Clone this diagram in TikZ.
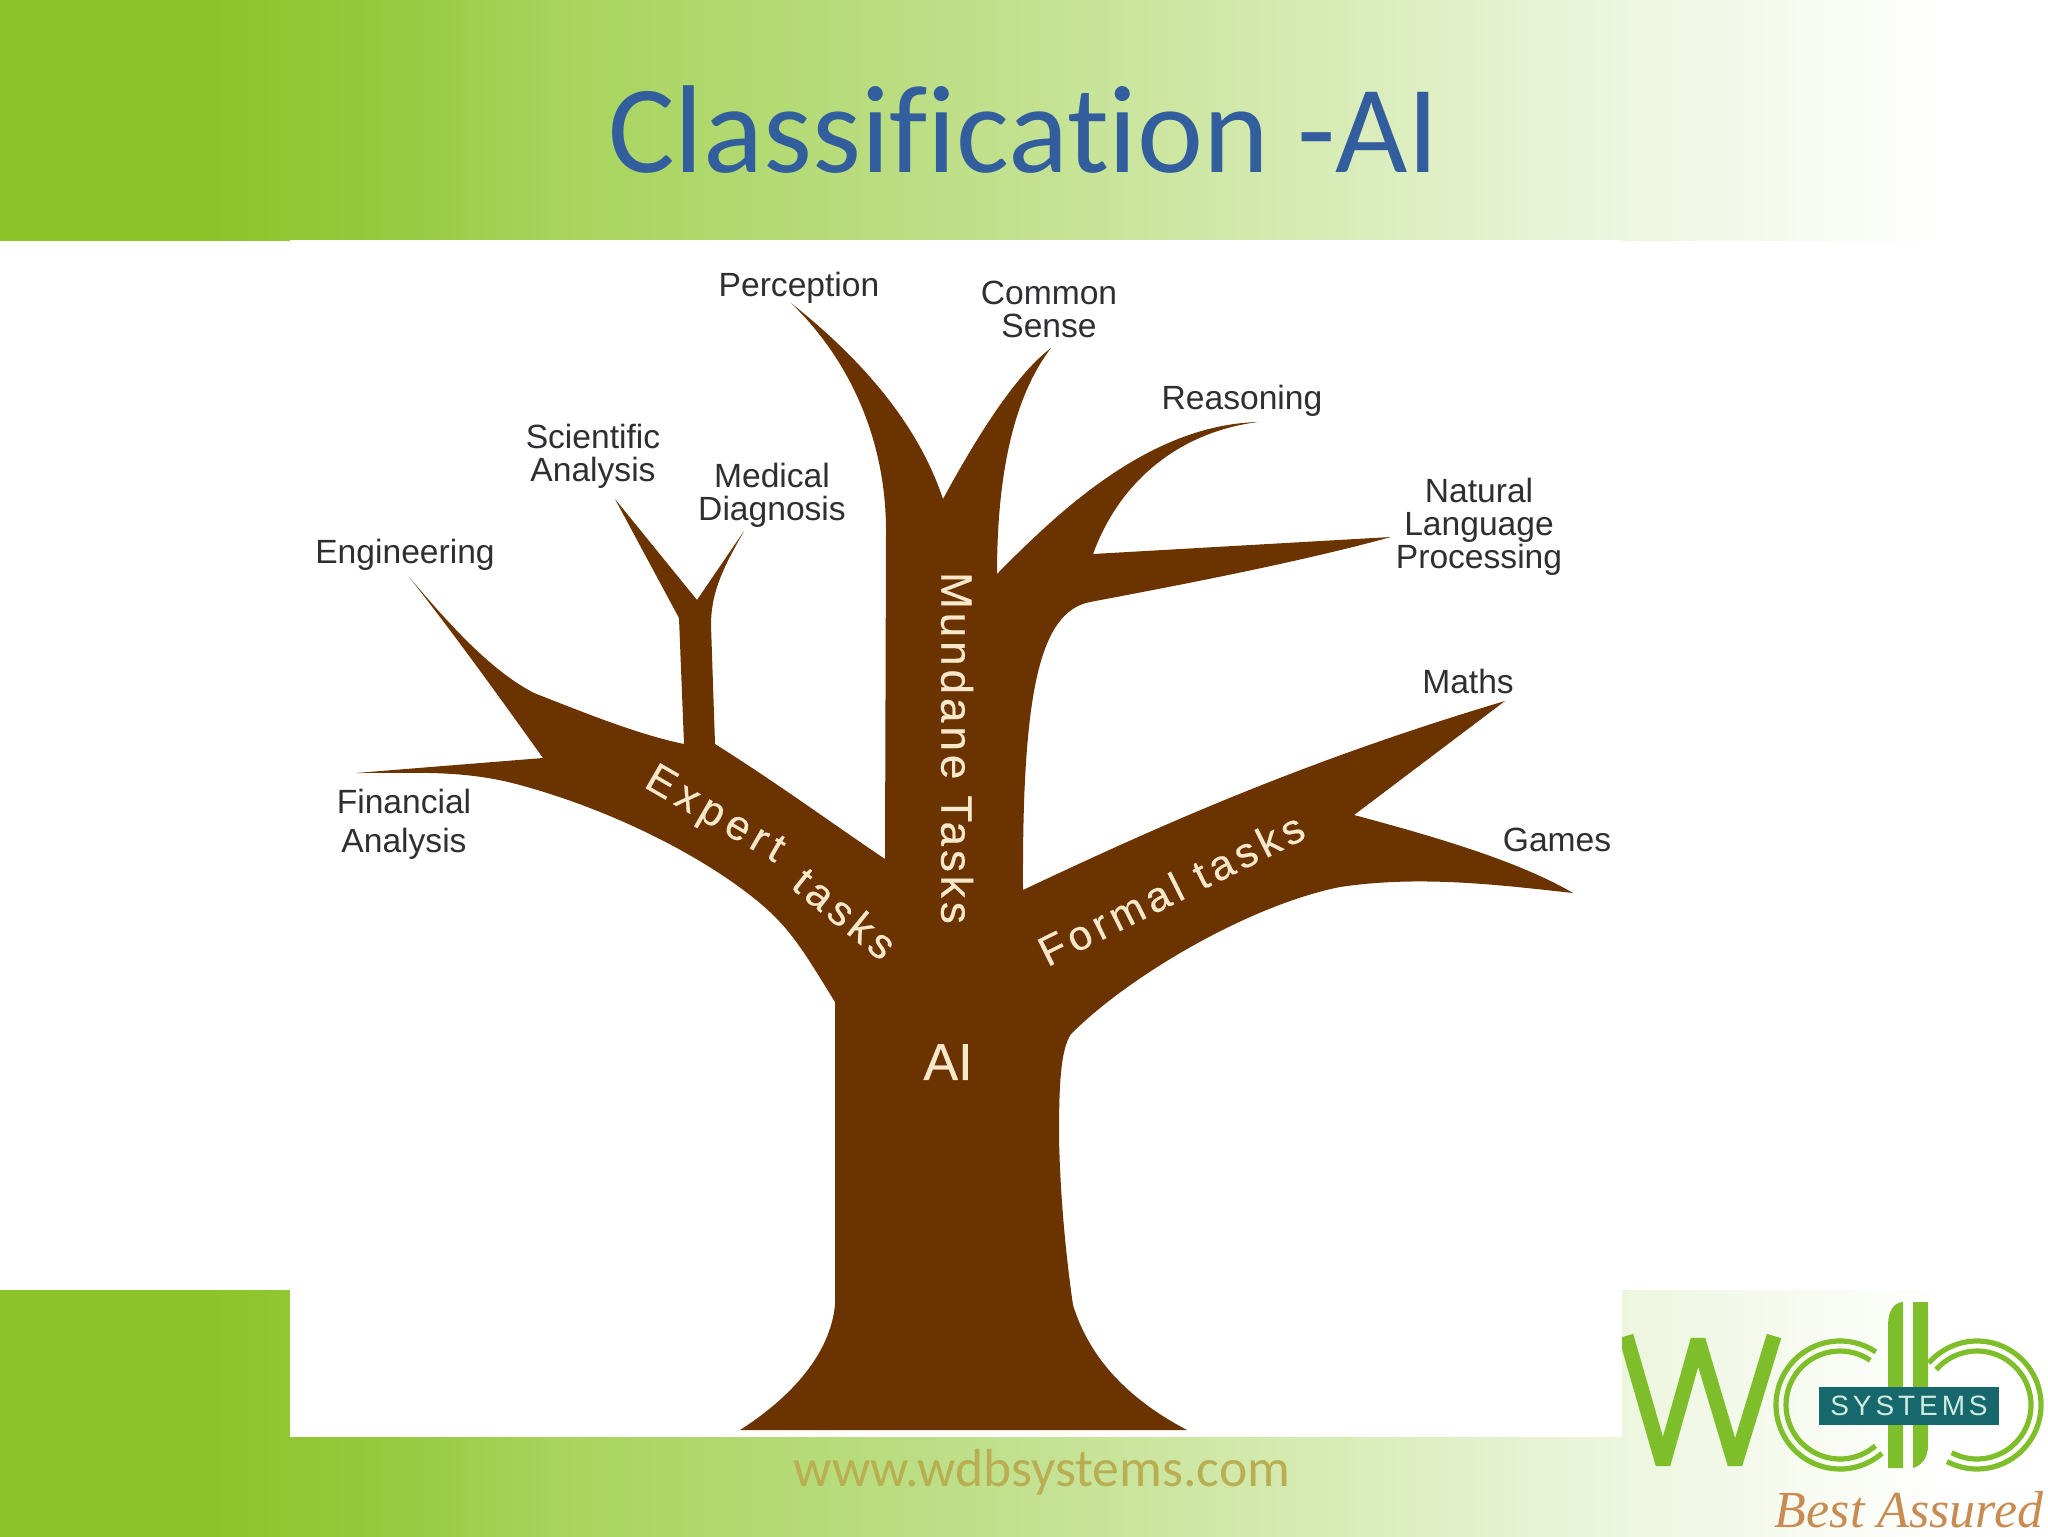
\documentclass[tikz,border=0pt]{standalone}
\usepackage{fontspec}
\setmainfont{Liberation Sans}
\newfontfamily\titlefont[Ligatures=NoCommon,Contextuals=NoAlternate]{Carlito}
\newfontfamily\spacedfont[LetterSpace=14]{Liberation Sans}
\newfontfamily\mottofont{Liberation Serif}
\newfontfamily\mundanefont[LetterSpace=9,FakeBold=0.4]{Liberation Sans}
\newfontfamily\formalfont[LetterSpace=12,FakeBold=0.4]{Liberation Sans}
\newfontfamily\expertfont[LetterSpace=15,FakeBold=0.4]{Liberation Sans}
\newfontfamily\tasksfont[LetterSpace=12,FakeBold=0.4]{Liberation Sans}
\newfontfamily\aifont[FakeBold=0.4]{Liberation Sans}
\definecolor{bandA}{HTML}{8CC429}
\definecolor{bandB}{HTML}{97CB42}
\definecolor{bandC}{HTML}{A7D45C}
\definecolor{bandD}{HTML}{BCDE84}
\definecolor{bandE}{HTML}{D6EBB3}
\definecolor{bandF}{HTML}{EAF4D9}
\definecolor{bark}{HTML}{6B3300}
\definecolor{cream}{HTML}{F7E8CC}
\definecolor{labelink}{HTML}{2E2E33}
\definecolor{titleblue}{HTML}{335E9E}
\definecolor{urlink}{HTML}{B9AE52}
\definecolor{logogreen}{HTML}{7FBE2B}
\definecolor{badge}{HTML}{17686C}
\definecolor{badgeink}{HTML}{CFEADF}
\definecolor{motto}{HTML}{C88B52}
\tikzset{
  treelabel/.style={text=labelink,font=\fontsize{16.8}{16.5}\selectfont,align=center,inner sep=0pt},
  limbtext/.style={text=cream,inner sep=0pt},
  ring/.style={draw=logogreen,line width=2.6pt},
}
\pgfdeclarehorizontalshading{bandshade}{100bp}{
  color(0bp)=(bandA);
  color(30bp)=(bandA);
  color(35bp)=(bandB);
  color(38.5bp)=(bandC);
  color(47.5bp)=(bandD);
  color(57bp)=(bandE);
  color(63.5bp)=(bandF);
  color(72.5bp)=(white);
  color(100bp)=(white)}
\begin{document}
\begin{tikzpicture}[x=0.5pt,y=-0.5pt]
\useasboundingbox (0,0) rectangle (2048,1536);
\fill[white] (0,0) rectangle (2048,1536);
% bands
\shade[shading=bandshade] (0,0) rectangle (2048,240);
\shade[shading=bandshade] (0,1290) rectangle (2048,1536);
% logo
\draw[logogreen,line width=7.5pt,miter limit=3] (1626,1336) -- (1663,1464) -- (1698,1340) -- (1735,1464) -- (1774,1336);
\draw[ring] (1840,1405) ++(-56:64) arc[start angle=-56,end angle=-311,radius=64];
\draw[ring] (1840,1405) ++(-56:54) arc[start angle=-56,end angle=-311,radius=54];
\draw[ring] (1977,1405) ++(-139:64) arc[start angle=-139,end angle=118,radius=64];
\draw[ring] (1977,1405) ++(-139:54) arc[start angle=-139,end angle=118,radius=54];
\fill[logogreen] (1888,1468) -- (1888,1325) .. controls (1888,1310) and (1895,1302) .. (1903,1302) -- (1903,1468) -- cycle;
\fill[logogreen] (1913,1302) -- (1928,1302) -- (1928,1445) .. controls (1928,1458) and (1922,1465) .. (1913,1468) -- cycle;
\node[fill=badge,text=badgeink,minimum width=90pt,minimum height=19pt,inner sep=0pt,font=\spacedfont\fontsize{14}{14}\selectfont] (badgebox) at (1909,1406) {SYSTEMS};
\node[text=motto,font=\mottofont\itshape\fontsize{26}{26}\selectfont,inner sep=0pt] (mottotext) at (1909,1510) {Best Assured};
% white picture pane
\fill[white] (290,240) rectangle (1622,1437);
% tree
\fill[bark] (740,1430)
  .. controls (790,1398) and (830,1355) .. (835,1305)
  -- (835,1002)
  .. controls (812,965) and (795,935) .. (770,912)
  .. controls (725,870) and (630,815) .. (520,785)
  .. controls (465,770) and (420,773) .. (356,773)
  -- (543,758)
  .. controls (505,705) and (455,635) .. (409,577)
  .. controls (450,625) and (490,670) .. (534,693)
  .. controls (590,715) and (640,735) .. (684,744)
  -- (679,618) -- (615,499) -- (697,600) -- (744,531)
  .. controls (725,565) and (711,590) .. (711,625)
  -- (715,744)
  .. controls (780,785) and (830,822) .. (885,859)
  -- (886,531)
  .. controls (886,440) and (850,360) .. (791,303)
  .. controls (850,350) and (915,415) .. (943,499)
  .. controls (975,440) and (1015,375) .. (1051,348)
  .. controls (1015,395) and (997,470) .. (997,574)
  .. controls (1060,510) and (1150,425) .. (1258,422)
  .. controls (1180,432) and (1120,480) .. (1093,554)
  -- (1391,537)
  .. controls (1300,562) and (1180,585) .. (1090,602)
  .. controls (1040,612) and (1022,690) .. (1023,890)
  .. controls (1150,830) and (1300,762) .. (1505,701)
  -- (1354,815)
  .. controls (1440,838) and (1520,862) .. (1573,893)
  .. controls (1500,885) and (1420,875) .. (1340,887)
  .. controls (1250,905) and (1130,975) .. (1071,1034)
  .. controls (1060,1050) and (1059,1090) .. (1059,1137)
  .. controls (1060,1190) and (1065,1250) .. (1073,1305)
  .. controls (1090,1360) and (1130,1400) .. (1187,1430)
  -- cycle;
% limb texts
\node[limbtext,rotate=-30,font=\expertfont\fontsize{21}{21}\selectfont] (experttext) at (714,816) {Expert};
\node[limbtext,rotate=-39,font=\tasksfont\fontsize{21}{21}\selectfont] (taskstext) at (845,913) {tasks};
\node[limbtext,rotate=-90,font=\mundanefont\fontsize{22}{22}\selectfont] (mundanetext) at (957,748) {Mundane Tasks};
\node[limbtext,rotate=26.5,font=\formalfont\fontsize{21}{21}\selectfont] (formaltext) at (1171,889) {Formal tasks};
\node[limbtext,font=\aifont\fontsize{26}{26}\selectfont] (ailabel) at (948,1062) {AI};
% labels
\node[treelabel] (perception) at (799,288) {Perception};
\node[treelabel] (commonsense) at (1049,309) {Common\\Sense};
\node[treelabel] (reasoning) at (1242,401) {Reasoning};
\node[treelabel] (nlp) at (1479,527) {Natural\\Language\\Processing};
\node[treelabel] (maths) at (1468,681) {Maths};
\node[treelabel] (games) at (1557,840) {Games};
\node[treelabel,font=\fontsize{16.8}{19.5}\selectfont] (financial) at (404,824) {Financial\\Analysis};
\node[treelabel] (engineering) at (405,555) {Engineering};
\node[treelabel] (scientific) at (593,456) {Scientific\\Analysis};
\node[treelabel] (medical) at (772,495) {Medical\\Diagnosis};
% title and url
\node[text=titleblue,font=\titlefont\fontsize{62.5}{62.5}\selectfont,inner sep=0pt] (slidetitle) at (1024,130) {Classification -AI};
\node[text=urlink,font=\titlefont\fontsize{26.8}{26.8}\selectfont,inner sep=0pt] (url) at (1042,1472) {www.wdbsystems.com};
\end{tikzpicture}
\end{document}
